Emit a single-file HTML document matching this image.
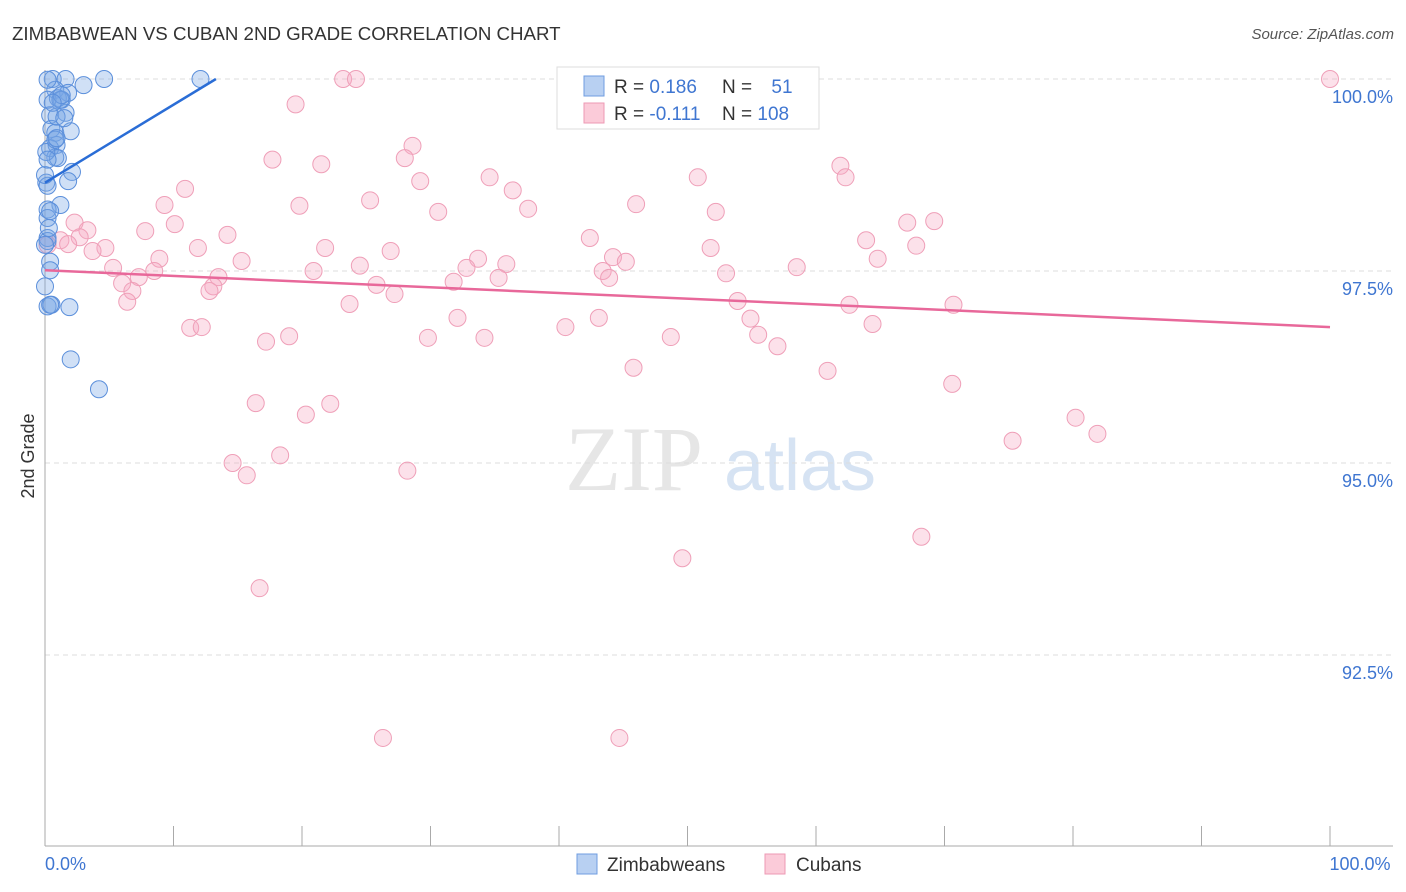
<!DOCTYPE html>
<html><head><meta charset="utf-8"><style>
body{margin:0;background:#fff;font-family:"Liberation Sans",sans-serif;}
svg{display:block}
</style></head><body>
<svg id="chart" width="1406" height="892" xmlns="http://www.w3.org/2000/svg">
<text x="12" y="40" font-size="18.7" fill="#333">ZIMBABWEAN VS CUBAN 2ND GRADE CORRELATION CHART</text>
<text x="1394" y="39" font-size="15" fill="#555" font-style="italic" text-anchor="end">Source: ZipAtlas.com</text>
<g><text x="634" y="490" font-size="92" fill="#e6e6e6" text-anchor="middle" font-family="Liberation Serif,serif">ZIP</text><text x="800" y="490" font-size="72" fill="#d6e3f3" text-anchor="middle">atlas</text></g>
<g id="grid"></g><g id="axes"></g><g id="pts"></g><g id="trend"></g>
<text x="34" y="456" font-size="18" fill="#333" text-anchor="middle" transform="rotate(-90 34 456)">2nd Grade</text>
<g>
<rect x="557" y="67" width="262" height="62" fill="#fff" stroke="#ddd"/>
<rect x="584" y="76" width="20" height="20" fill="#b8d0f2" stroke="#6f9de0"/>
<rect x="584" y="103" width="20" height="20" fill="#fbcbd9" stroke="#ee9ab4"/>
<text x="614" y="93" font-size="19" fill="#333">R = <tspan fill="#3f76d1">0.186</tspan></text><text x="722" y="93" font-size="19" fill="#333">N = <tspan fill="#3f76d1" dx="14">51</tspan></text>
<text x="614" y="120" font-size="19" fill="#333">R = <tspan fill="#3f76d1">-0.111</tspan></text><text x="722" y="120" font-size="19" fill="#333">N = <tspan fill="#3f76d1">108</tspan></text>
</g>
<g>
<rect x="577" y="854" width="20" height="20" fill="#b8d0f2" stroke="#6f9de0"/><text x="607" y="871" font-size="19" fill="#333">Zimbabweans</text>
<rect x="765" y="854" width="20" height="20" fill="#fbcbd9" stroke="#ee9ab4"/><text x="796" y="871" font-size="19" fill="#333">Cubans</text>
</g>
</svg>
<script>
const yTicks=[100,97.5,95,92.5];
const yTickLabels=["100.0%","97.5%","95.0%","92.5%"];
const xTickLabels=["0.0%","100.0%"];
const blueX=[0.6,1.6,4.6,12.1,3.0,0.8,1.8,1.0,1.3,0.4,1.6,0.5,0.8,2.0,0.9,0.4,0.8,1.0,0.1,2.1,1.8,0.1,0.2,1.2,0.2,0.2,0.2,0.2,0.4,0,0.2,0.5,1.9,2.0,4.2,0.2,0.2,1.2,0,0.4,0.9,1.3,0.8,0.2,0.9,0.3,0.4,0,0.6,0.4,1.5];
const blueY=[100,100,100,100,99.92,99.86,99.82,99.75,99.73,99.53,99.56,99.35,99.30,99.32,99.14,99.10,98.98,98.97,99.05,98.79,98.67,98.65,98.61,98.36,98.30,98.19,97.93,97.89,97.62,97.30,97.04,97.06,97.03,96.35,95.96,99.99,99.73,99.73,98.75,98.28,99.51,99.79,99.21,98.95,99.23,98.06,97.06,97.84,99.69,97.51,99.49];
const pinkX=[100,23.2,24.2,19.5,28.6,28.0,17.7,21.5,61.9,62.3,50.8,34.6,29.2,10.9,36.4,25.3,46.0,19.8,9.3,37.6,30.6,52.2,67.1,69.2,2.3,10.1,3.3,7.8,14.2,42.4,63.9,1.2,2.7,0.2,21.8,11.9,26.9,51.8,67.8,4.7,1.8,3.7,44.2,45.2,8.9,15.3,33.7,35.9,64.8,24.5,5.3,32.8,43.4,58.5,20.9,8.5,53.0,7.3,43.9,35.3,6.0,13.5,25.8,13.1,31.8,6.8,27.2,12.8,53.9,23.7,6.4,62.6,70.7,32.1,43.1,54.9,11.3,12.2,40.5,64.4,19.0,34.2,29.8,55.5,48.7,17.2,57.0,45.8,60.9,70.6,16.4,22.2,20.3,80.2,81.9,75.3,14.6,18.3,28.2,15.7,68.2,49.6,16.7,26.3,44.7];
const pinkY=[100,100,100,99.67,99.13,98.97,98.95,98.89,98.87,98.72,98.72,98.72,98.67,98.57,98.55,98.42,98.37,98.35,98.36,98.31,98.27,98.27,98.13,98.15,98.13,98.11,98.03,98.02,97.97,97.93,97.90,97.90,97.94,97.84,97.80,97.80,97.76,97.80,97.83,97.80,97.85,97.76,97.68,97.62,97.66,97.63,97.66,97.59,97.66,97.57,97.54,97.54,97.50,97.55,97.50,97.50,97.47,97.42,97.41,97.41,97.34,97.42,97.32,97.30,97.36,97.24,97.20,97.24,97.11,97.07,97.10,97.06,97.06,96.89,96.89,96.88,96.76,96.77,96.77,96.81,96.65,96.63,96.63,96.67,96.64,96.58,96.52,96.24,96.20,96.03,95.78,95.77,95.63,95.59,95.38,95.29,95.00,95.10,94.90,94.84,94.04,93.76,93.37,91.42,91.42];
const blueTrendX=[0,13.3], blueTrendY=[98.65,100];
const pinkTrendX=[0,100], pinkTrendY=[97.51,96.77];
const NS="http://www.w3.org/2000/svg";
const X0=45,X1=1330,Y100=79,PXPER=76.8;
const sx=v=>X0+(X1-X0)*v/100;
const sy=v=>Y100+(100-v)*PXPER;
function mk(parent,tag,attrs){const e=document.createElementNS(NS,tag);for(const k in attrs)e.setAttribute(k,attrs[k]);document.getElementById(parent).appendChild(e);return e;}
yTicks.forEach((t,i)=>{
  const g=mk('grid','line',{x1:45,x2:1393,y1:sy(t),y2:sy(t),stroke:'#dcdcdc','stroke-dasharray':'5,4'});
  
  
  const l=mk('grid','text',{x:1393,y:sy(t)+24,'font-size':18,fill:'#3f76d1','text-anchor':'end'});
  l.textContent=yTickLabels[i];
  
  
});
const ax=mk('axes','line',{x1:45,x2:45,y1:70,y2:846,stroke:'#aaa'});


const bx=mk('axes','line',{x1:45,x2:1393,y1:846,y2:846,stroke:'#aaa'});


for(let i=1;i<=10;i++){
  const t=mk('axes','line',{x1:sx(i*10),x2:sx(i*10),y1:826,y2:846,stroke:'#aaa'});
  
  
}
[[0,'start'],[100,'middle']].forEach((p,i)=>{
  const t=mk('axes','text',{x:i?sx(p[0])+30:sx(p[0]),y:870,'font-size':18,fill:'#3f76d1','text-anchor':i?'middle':'start'});
  t.textContent=xTickLabels[i];
  
  
});
pinkX.forEach((x,i)=>{
  const c=mk('pts','circle',{cx:sx(x),cy:sy(pinkY[i]),r:8.5,fill:'rgba(247,170,195,0.35)',stroke:'#ef9fb8','stroke-width':1});
  
  
});
blueX.forEach((x,i)=>{
  const c=mk('pts','circle',{cx:sx(x),cy:sy(blueY[i]),r:8.5,fill:'rgba(120,165,230,0.35)',stroke:'#5b8fdb','stroke-width':1});
  
  
});
const bt=mk('trend','line',{x1:sx(blueTrendX[0]),y1:sy(blueTrendY[0]),x2:sx(blueTrendX[1]),y2:sy(blueTrendY[1]),stroke:'#2a6dd6','stroke-width':2.5});


const pt=mk('trend','line',{x1:sx(pinkTrendX[0]),y1:sy(pinkTrendY[0]),x2:sx(pinkTrendX[1]),y2:sy(pinkTrendY[1]),stroke:'#e8689a','stroke-width':2.5});


</script>
</body></html>
